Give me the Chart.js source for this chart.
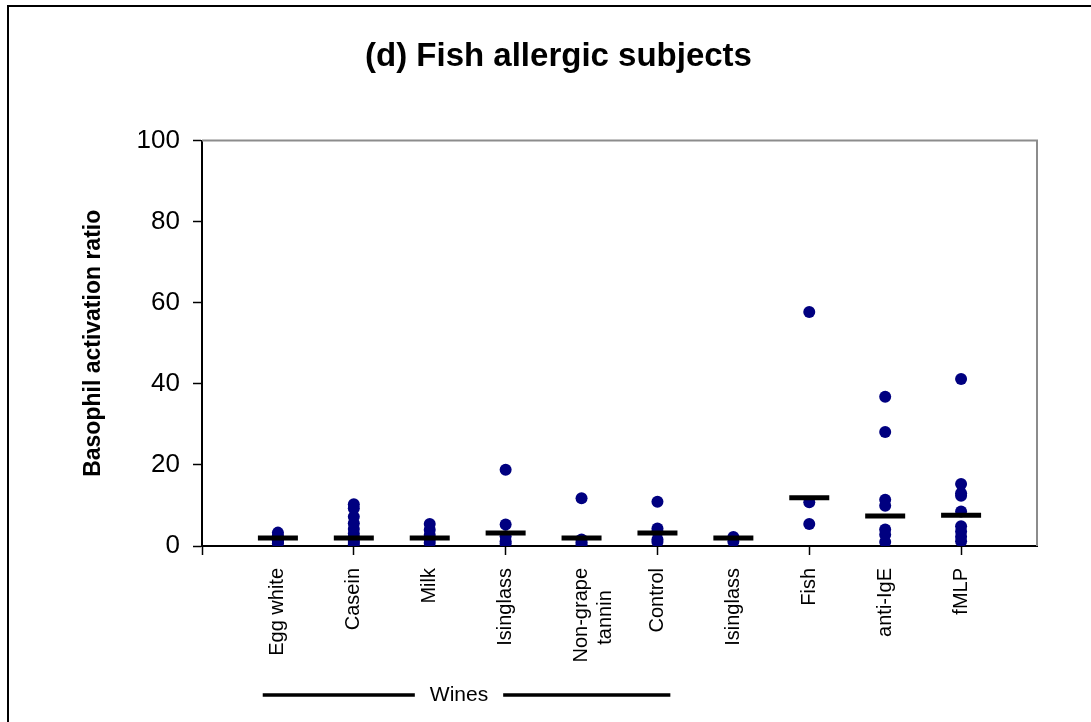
<!DOCTYPE html>
<html>
<head>
<meta charset="utf-8">
<title>(d) Fish allergic subjects</title>
<script src="https://cdn.jsdelivr.net/npm/chart.js@4"></script>
<style>
  body { margin: 0; background: #fff; }
  #wrap { width: 1091px; height: 722px; }
</style>
</head>
<body>
<div id="wrap"><canvas id="chart"></canvas></div>
<script>
'use strict';

//#region Data

const categories = ['Egg white', 'Casein', 'Milk', 'Isinglass', ['Non-grape', 'tannin'],
  'Control', 'Isinglass', 'Fish', 'anti-IgE', 'fMLP'];

const eggWhite = [3.3, 2.6, 1.8, 1.4, 1.0, 0.7];
const casein = [10.3, 9.3, 7.2, 5.6, 4.2, 3.1, 2.2, 1.5, 1.0, 0.5];
const milk = [5.4, 4.0, 2.7, 1.6, 0.8];
const isinglass = [18.8, 5.3, 2.4, 1.2, 0.6];
const nonGrapeTannin = [11.8, 1.6, 0.9, 0.4];
const control = [10.9, 4.3, 3.5, 1.6, 1.0];
const isinglassWine = [2.2, 1.1];
const fish = [57.7, 10.8, 5.4];
const antiIgE = [36.8, 28.1, 11.4, 9.9, 4.1, 2.8, 1.0];
const fMLP = [41.2, 15.3, 13.0, 12.4, 8.5, 4.9, 3.6, 2.3, 1.2];

const subjectValues = [eggWhite, casein, milk, isinglass, nonGrapeTannin,
  control, isinglassWine, fish, antiIgE, fMLP];
const medians = [2.0, 2.0, 2.0, 3.2, 2.0, 3.2, 2.0, 11.9, 7.4, 7.6];

const yTicks = [0, 20, 40, 60, 80, 100];
const bracketLabel = 'Wines';

//#endregion

const FONT = 'Liberation Sans, Arial, sans-serif';
const X_FONT_SIZE = 20;

let dotPoints = [];
subjectValues.forEach((vals, i) => {
  vals.forEach(v => dotPoints.push({ x: i + 1, y: v }));
});
let medianPoints = medians.map((v, i) => ({ x: i + 1, y: v }));

// rotated multi-line labels are end-aligned by Chart.js; pad the shorter
// lines with trailing spaces so they sit centred like in the original
const measureCtx = document.createElement('canvas').getContext('2d');
measureCtx.font = X_FONT_SIZE + 'px ' + FONT;
function centreLines(label) {
  if (!Array.isArray(label)) return label;
  const widths = label.map(l => measureCtx.measureText(l).width);
  const longest = Math.max(...widths);
  const space = measureCtx.measureText(' ').width;
  return label.map((l, i) => l + ' '.repeat(Math.round((longest - widths[i]) / 2 / space)));
}

//#region Plugins

const framePlugin = {
  id: 'frame',
  beforeDraw(chart) {
    const ctx = chart.ctx;
    ctx.save();
    ctx.fillStyle = '#fff';
    ctx.fillRect(0, 0, chart.width, chart.height);
    ctx.restore();
  },
  beforeDatasetsDraw(chart) {
    const { ctx, chartArea } = chart;
    ctx.save();
    ctx.strokeStyle = '#8c8c8c';
    ctx.lineWidth = 2;
    ctx.beginPath();
    ctx.moveTo(chartArea.left, chartArea.top);
    ctx.lineTo(chartArea.right, chartArea.top);
    ctx.lineTo(chartArea.right, chartArea.bottom);
    ctx.stroke();
    ctx.restore();
  },
  afterDraw(chart) {
    const ctx = chart.ctx;
    const xs = chart.scales.x;
    ctx.save();
    // outer figure border (right and bottom edges fall outside the picture)
    ctx.strokeStyle = '#000';
    ctx.lineWidth = 2;
    ctx.strokeRect(8, 6, chart.width + 20, chart.height + 20);

    // "Wines" bracket under the first seven categories
    const y = 695;
    const x0 = xs.getPixelForValue(0.8);
    const x1 = xs.getPixelForValue(6.17);
    ctx.font = '21px ' + FONT;
    ctx.fillStyle = '#000';
    ctx.textAlign = 'center';
    ctx.textBaseline = 'middle';
    const mid = 459;
    const half = ctx.measureText(bracketLabel).width / 2;
    ctx.fillText(bracketLabel, mid, y);
    ctx.lineWidth = 3.5;
    ctx.beginPath();
    ctx.moveTo(x0, y);
    ctx.lineTo(mid - half - 15, y);
    ctx.moveTo(mid + half + 15, y);
    ctx.lineTo(x1, y);
    ctx.stroke();
    ctx.restore();
  }
};

//#endregion

const chartObj = {
  type: 'scatter',
  data: {
    datasets: [
      {
        label: 'Median',
        data: medianPoints,
        pointStyle: 'line',
        pointRadius: 20,
        pointHoverRadius: 20,
        borderColor: '#000',
        borderWidth: 5,
        order: 0
      },
      {
        label: 'Subjects',
        data: dotPoints,
        pointStyle: 'circle',
        pointRadius: 6,
        pointHoverRadius: 6,
        backgroundColor: '#000080',
        borderColor: '#000080',
        borderWidth: 0,
        order: 1
      }
    ]
  },
  options: {
    responsive: true,
    maintainAspectRatio: false,
    animation: false,
    layout: { padding: { left: 80, right: 54, top: 0, bottom: 0 } },
    plugins: {
      legend: { display: false },
      tooltip: { enabled: false },
      title: {
        display: true,
        text: '(d) Fish allergic subjects',
        color: '#000',
        font: { family: FONT, size: 33, weight: 'bold' },
        padding: { top: 37, bottom: 64 }
      }
    },
    scales: {
      x: {
        type: 'linear',
        min: 0,
        max: 11,
        afterBuildTicks: scale => {
          scale.ticks = [];
          for (let v = 0; v <= 11; v++) scale.ticks.push({ value: v });
        },
        ticks: {
          autoSkip: false,
          maxRotation: 90,
          minRotation: 90,
          padding: 13,
          color: '#000',
          font: { family: FONT, size: X_FONT_SIZE },
          callback: v => centreLines(categories[v - 1]) || ''
        },
        grid: {
          drawOnChartArea: false,
          tickLength: 9,
          tickWidth: 1.5,
          tickColor: c => (c.tick && c.tick.value % 2 === 0 && c.tick.value < 11) ? '#000' : 'rgba(0,0,0,0)'
        },
        border: { color: '#000', width: 2 },
        afterFit: scale => { scale.height = 176; }
      },
      y: {
        min: 0,
        max: 100,
        afterBuildTicks: scale => { scale.ticks = yTicks.map(v => ({ value: v })); },
        ticks: {
          padding: 13,
          color: '#000',
          font: { family: FONT, size: 26 }
        },
        grid: {
          drawOnChartArea: false,
          tickLength: 9,
          tickWidth: 1.5,
          tickColor: '#000'
        },
        border: { color: '#000', width: 2 },
        title: {
          display: true,
          text: 'Basophil activation ratio',
          color: '#000',
          font: { family: FONT, size: 23, weight: 'bold' },
          padding: 0
        },
        afterFit: scale => { scale.width = 122; }
      }
    }
  },
  plugins: [framePlugin]
};

const chart = new Chart(document.getElementById('chart'), chartObj); //eslint-disable-line
</script>
</body>
</html>
